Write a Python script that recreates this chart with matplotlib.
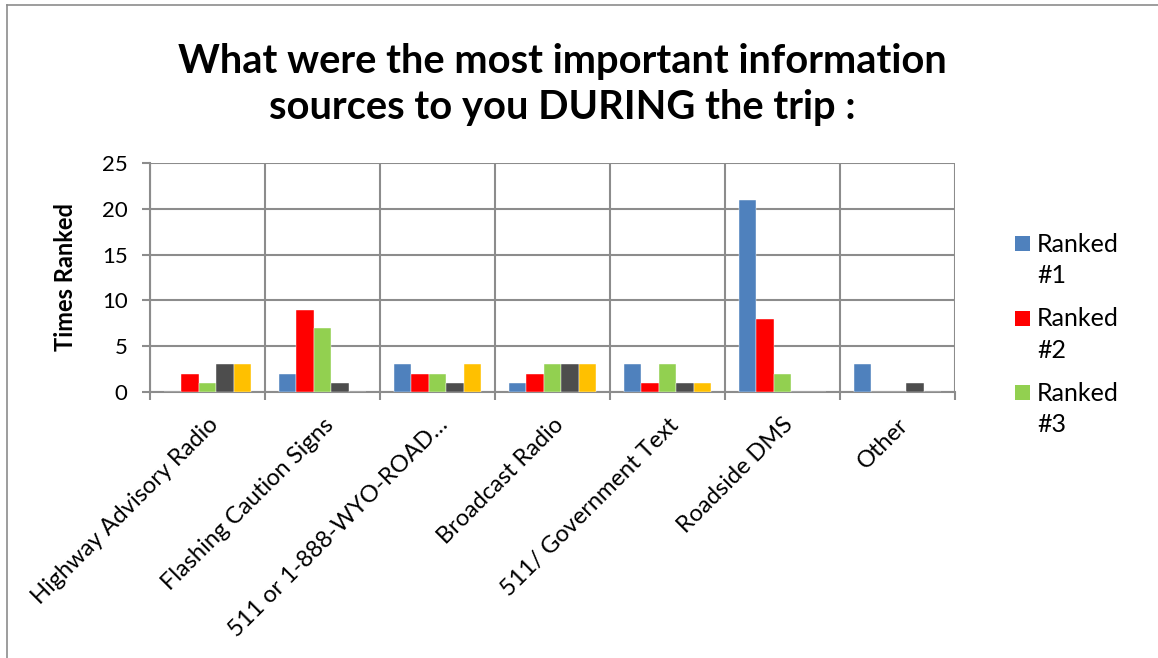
import numpy as np
import matplotlib.pyplot as plt
from matplotlib.patches import Rectangle
from matplotlib.lines import Line2D

# dados do gráfico
categorias = ['Highway Advisory Radio', 'Flashing Caution Signs', '511 or 1-888-WYO-ROAD…',
              'Broadcast Radio', '511/ Government Text', 'Roadside DMS', 'Other']
series = ['#1', '#2', '#3', '#4', '#5']
ranked_1 = [0, 2, 3, 1, 3, 21, 3]
ranked_2 = [2, 9, 2, 2, 1, 8, 0]
ranked_3 = [1, 7, 2, 3, 3, 2, 0]
ranked_4 = [3, 1, 1, 3, 1, 0, 1]
ranked_5 = [3, 0, 3, 3, 1, 0, 0]
cores = ['#4F81BD', '#FF0000', '#92D050', '#4D4D4D', '#FFC000']

plt.rcParams['font.family'] = ['Lato', 'DejaVu Sans']

W, H = 1158, 658
fig = plt.figure(figsize=(W / 100, H / 100), dpi=100)
ax = fig.add_axes([0.1295, 0.4043, 0.6952, 0.348])

grid_cor = '#8C8C8C'
x = np.arange(len(categorias))
largura = 0.152
valores = [ranked_1, ranked_2, ranked_3, ranked_4, ranked_5]
for i, (vals, cor) in enumerate(zip(valores, cores)):
    ax.bar(x + (i - 2) * largura, vals, width=largura, color=cor,
           edgecolor='white', linewidth=0.3, zorder=3)

ax.set_xlim(-0.5, len(categorias) - 0.5)
ax.set_ylim(0, 25)
ax.set_yticks(range(0, 26, 5))
ax.tick_params(axis='y', labelsize=16, length=6, color=grid_cor, width=1.5, pad=10)

# linhas verticais entre categorias
ax.set_xticks(np.arange(-0.5, len(categorias), 1.0))
ax.set_xticklabels([])
ax.set_xticks(x, minor=True)
ax.set_xticklabels(categorias, minor=True, rotation=45, ha='right',
                   rotation_mode='anchor', fontsize=17)
ax.tick_params(axis='x', which='major', length=6, color=grid_cor, width=1.5)
ax.tick_params(axis='x', which='minor', length=0, pad=16)

ax.grid(True, which='major', color=grid_cor, linewidth=1.5, zorder=0)
for lado in ['top', 'right']:
    ax.spines[lado].set_visible(False)
for lado in ['left', 'bottom']:
    ax.spines[lado].set_color(grid_cor)
    ax.spines[lado].set_linewidth(1.5)

ax.set_ylabel('Times Ranked', fontsize=17, fontweight='bold', labelpad=18)

fig.text(0.486, 0.871, 'What were the most important information\nsources to you DURING the trip :',
         ha='center', va='center', fontsize=28.7, fontweight='bold', linespacing=1.3)

# legenda (apenas três itens visíveis no original)
for i in range(3):
    topo = 236 + 74.5 * i
    fig.add_artist(Rectangle((1015 / W, 1 - (topo + 15) / H), 15 / W, 15 / H,
                             transform=fig.transFigure, facecolor=cores[i], edgecolor='none'))
    fig.text(1037 / W, 1 - (topo + 16) / H, 'Ranked', fontsize=18, va='baseline')
    fig.text(1037 / W, 1 - (topo + 47) / H, series[i], fontsize=18, va='baseline')

# borda da figura
fig.add_artist(Line2D([0.006, 0.006], [0, 0.993], color='#8C8C8C', linewidth=1.2))
fig.add_artist(Line2D([0.006, 1], [0.993, 0.993], color='#8C8C8C', linewidth=1.2))

fig.savefig('out.png', dpi=100)
